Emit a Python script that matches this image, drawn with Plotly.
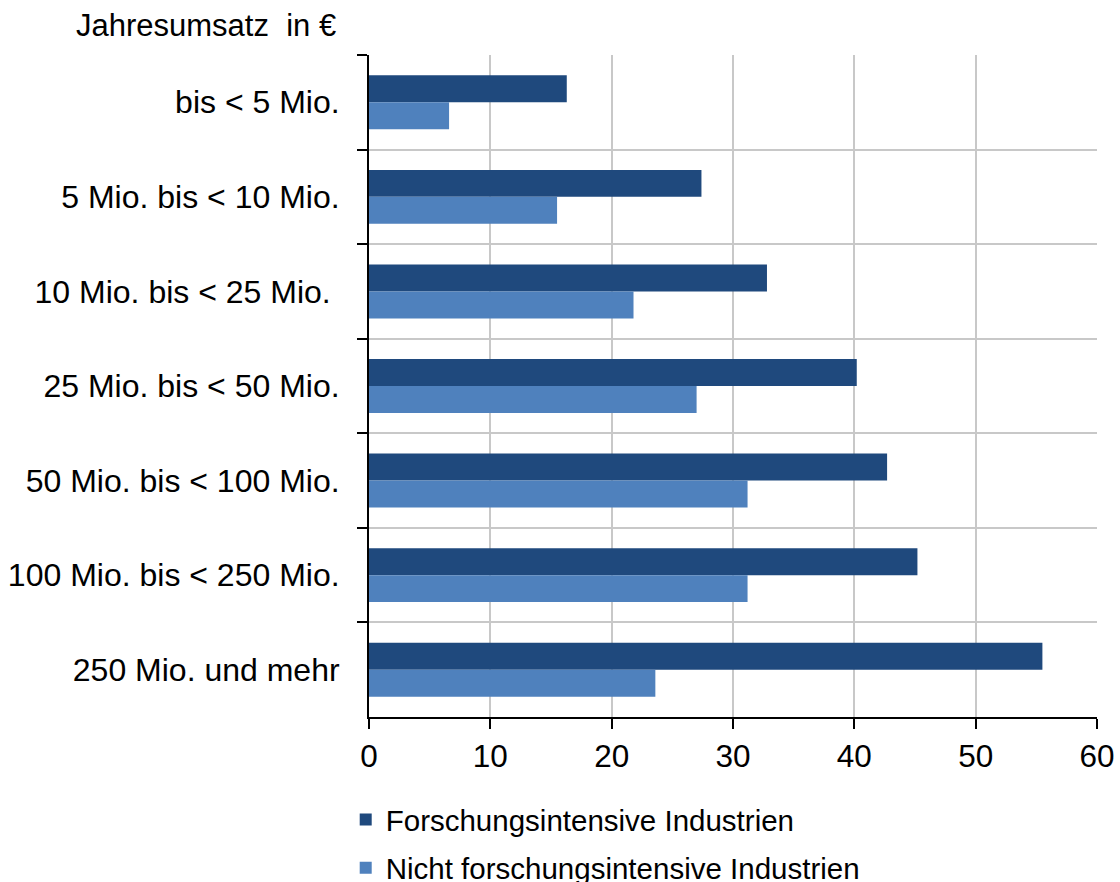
import plotly.graph_objects as go

categories = [
    "bis < 5 Mio.",
    "5 Mio. bis < 10 Mio.",
    "10 Mio. bis < 25 Mio.\u00a0",
    "25 Mio. bis < 50 Mio.",
    "50 Mio. bis < 100 Mio.",
    "100 Mio. bis < 250 Mio.",
    "250 Mio. und mehr",
]
forschung = [16.3, 27.4, 32.8, 40.2, 42.7, 45.2, 55.5]
nicht_forschung = [6.6, 15.5, 21.8, 27.0, 31.2, 31.2, 23.6]
series_names = ["Forschungsintensive Industrien", "Nicht forschungsintensive Industrien"]
x_ticks = [0, 10, 20, 30, 40, 50, 60]
axis_title = "Jahresumsatz  in €"

FONT = "Liberation Sans, Arial, sans-serif"
DARK = "#1f497d"
LIGHT = "#4f81bd"
GRID = "#c8c8c8"

fig = go.Figure()
fig.add_trace(go.Bar(
    y=categories, x=forschung, orientation="h", name=series_names[0],
    legendgroup="a", marker=dict(color=DARK, line=dict(width=0)),
))
fig.add_trace(go.Bar(
    y=categories, x=nicht_forschung, orientation="h", name=series_names[1],
    legendgroup="b", marker=dict(color=LIGHT, line=dict(width=0)),
))

fig.update_layout(
    width=1120, height=882,
    margin=dict(l=369, r=23, t=55, b=165, autoexpand=False),
    paper_bgcolor="white", plot_bgcolor="white",
    barmode="group", bargap=0.43, bargroupgap=0,
    font=dict(family=FONT, size=29.5, color="black"),
    showlegend=True,
    legend=dict(
        orientation="v", x=-0.032, xanchor="left", y=-0.116, yanchor="top",
        font=dict(family=FONT, size=29.5, color="black"),
        traceorder="grouped", itemsizing="constant",
        bgcolor="rgba(0,0,0,0)", borderwidth=0, tracegroupgap=7,
    ),
    annotations=[dict(
        text=axis_title, xref="paper", yref="paper",
        x=-0.0426, y=1.044, xanchor="right", yanchor="middle",
        showarrow=False, font=dict(family=FONT, size=31, color="black"),
    )],
)

fig.update_yaxes(
    autorange="reversed", type="category",
    tickson="boundaries", ticks="outside", ticklen=10, tickwidth=2, tickcolor="black",
    showline=True, linecolor="black", linewidth=2,
    showgrid=True, gridcolor=GRID, gridwidth=2,
    ticklabelstandoff=21, tickfont=dict(family=FONT, size=32, color="black"),
    zeroline=False,
)
fig.update_xaxes(
    range=[0, 60], tickvals=x_ticks, ticktext=[str(v) for v in x_ticks],
    ticks="outside", ticklen=10, tickwidth=2, tickcolor="black",
    showline=True, linecolor="black", linewidth=2,
    showgrid=True, gridcolor=GRID, gridwidth=2, zeroline=False,
    tickfont=dict(family=FONT, size=31.5, color="black"),
    ticklabelstandoff=0,
)

fig.write_html(
    "out.html",
    config={"displayModeBar": False},
    post_script="document.body.style.margin='0';document.body.style.overflow='hidden';",
)
